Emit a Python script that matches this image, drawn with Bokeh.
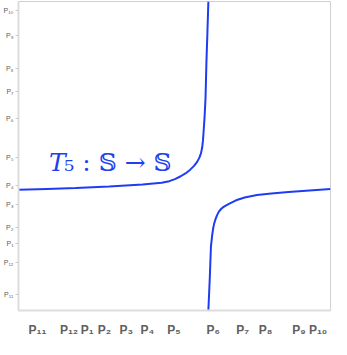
from bokeh.plotting import figure
from bokeh.models import Range1d, FixedTicker, Label
from bokeh.embed import file_html
from bokeh.resources import INLINE

# tick positions (same scale on both axes) and labels
x_ticks = [20, 53, 72, 90, 113, 135, 163, 204, 235, 259, 294, 314]
x_labels = ["P₁₁", "P₁₂", "P₁", "P₂", "P₃", "P₄", "P₅", "P₆", "P₇", "P₈", "P₉", "P₁₀"]
y_ticks = [17, 51, 71, 88, 112, 133, 162, 204, 232, 257, 292, 318]
y_labels = ["P₁₁", "P₁₂", "P₁", "P₂", "P₃", "P₄", "P₅", "P₆", "P₇", "P₈", "P₉", "P₁₀"]

# curve branches
left_x = [0, 30, 60, 95, 130, 150, 158, 164, 170, 175, 180, 184, 187, 189.5, 191.3,
          192.5, 193.3, 194, 195, 196, 197, 198, 199]
left_y = [128.3, 129.1, 130, 131.7, 133.7, 135.7, 137.3, 139.5, 142.5, 145.5, 149.5, 153.5,
          157.5, 162, 167, 173, 180, 190, 205, 225, 265, 295, 328]
right_x = [199, 200.5, 201.7, 203, 204, 205, 206.5, 208, 210, 212.5, 215, 220, 228, 237,
           250, 265, 283, 305, 327]
right_y = [0, 35, 68, 80, 87, 92, 97, 101, 105, 108, 110, 113, 117, 120,
           122.5, 124.2, 125.7, 127.5, 129]

p = figure(width=331, height=339, output_backend="svg", toolbar_location=None,
           x_range=Range1d(0, 327), y_range=Range1d(0, 328),
           min_border_left=14, min_border_right=1, min_border_top=1, min_border_bottom=0)
p.background_fill_color = "white"
p.border_fill_color = "white"
p.outline_line_color = "#d0d0d0"
p.xgrid.visible = False
p.ygrid.visible = False

p.line(left_x, left_y, line_color="#1f3cf5", line_width=2)
p.line(right_x, right_y, line_color="#1f3cf5", line_width=2)

p.xaxis.ticker = FixedTicker(ticks=x_ticks)
p.xaxis.major_label_overrides = {t: l for t, l in zip(x_ticks, x_labels)}
p.yaxis.ticker = FixedTicker(ticks=y_ticks)
p.yaxis.major_label_overrides = {t: l for t, l in zip(y_ticks, y_labels)}

for ax in (p.xaxis, p.yaxis):
    ax.axis_line_color = "#dddddd"
    ax.axis_line_width = 2
    ax.minor_tick_line_color = None
    ax.major_label_text_color = "#606060"
    ax.major_label_text_font = "Liberation Sans"

p.xaxis.major_tick_line_color = None
p.xaxis.major_label_text_font_size = "12px"
p.xaxis.major_label_text_font_style = "bold"
p.xaxis.major_label_standoff = 6
p.yaxis.major_tick_line_color = "#cccccc"
p.yaxis.major_tick_out = 3
p.yaxis.major_tick_in = 0
p.yaxis.major_label_text_font_size = "7px"
p.yaxis.major_label_standoff = 2

p.add_layout(Label(x=32, y=142, text="T", text_font="DejaVu Serif", text_font_style="italic",
                   text_font_size="25px", text_color="#2040f0"))
p.add_layout(Label(x=48, y=142, text="₅ : 𝕊 → 𝕊", text_font="DejaVu Serif",
                   text_font_size="25px", text_color="#2040f0"))

open("out.html", "w").write(file_html(p, INLINE))
